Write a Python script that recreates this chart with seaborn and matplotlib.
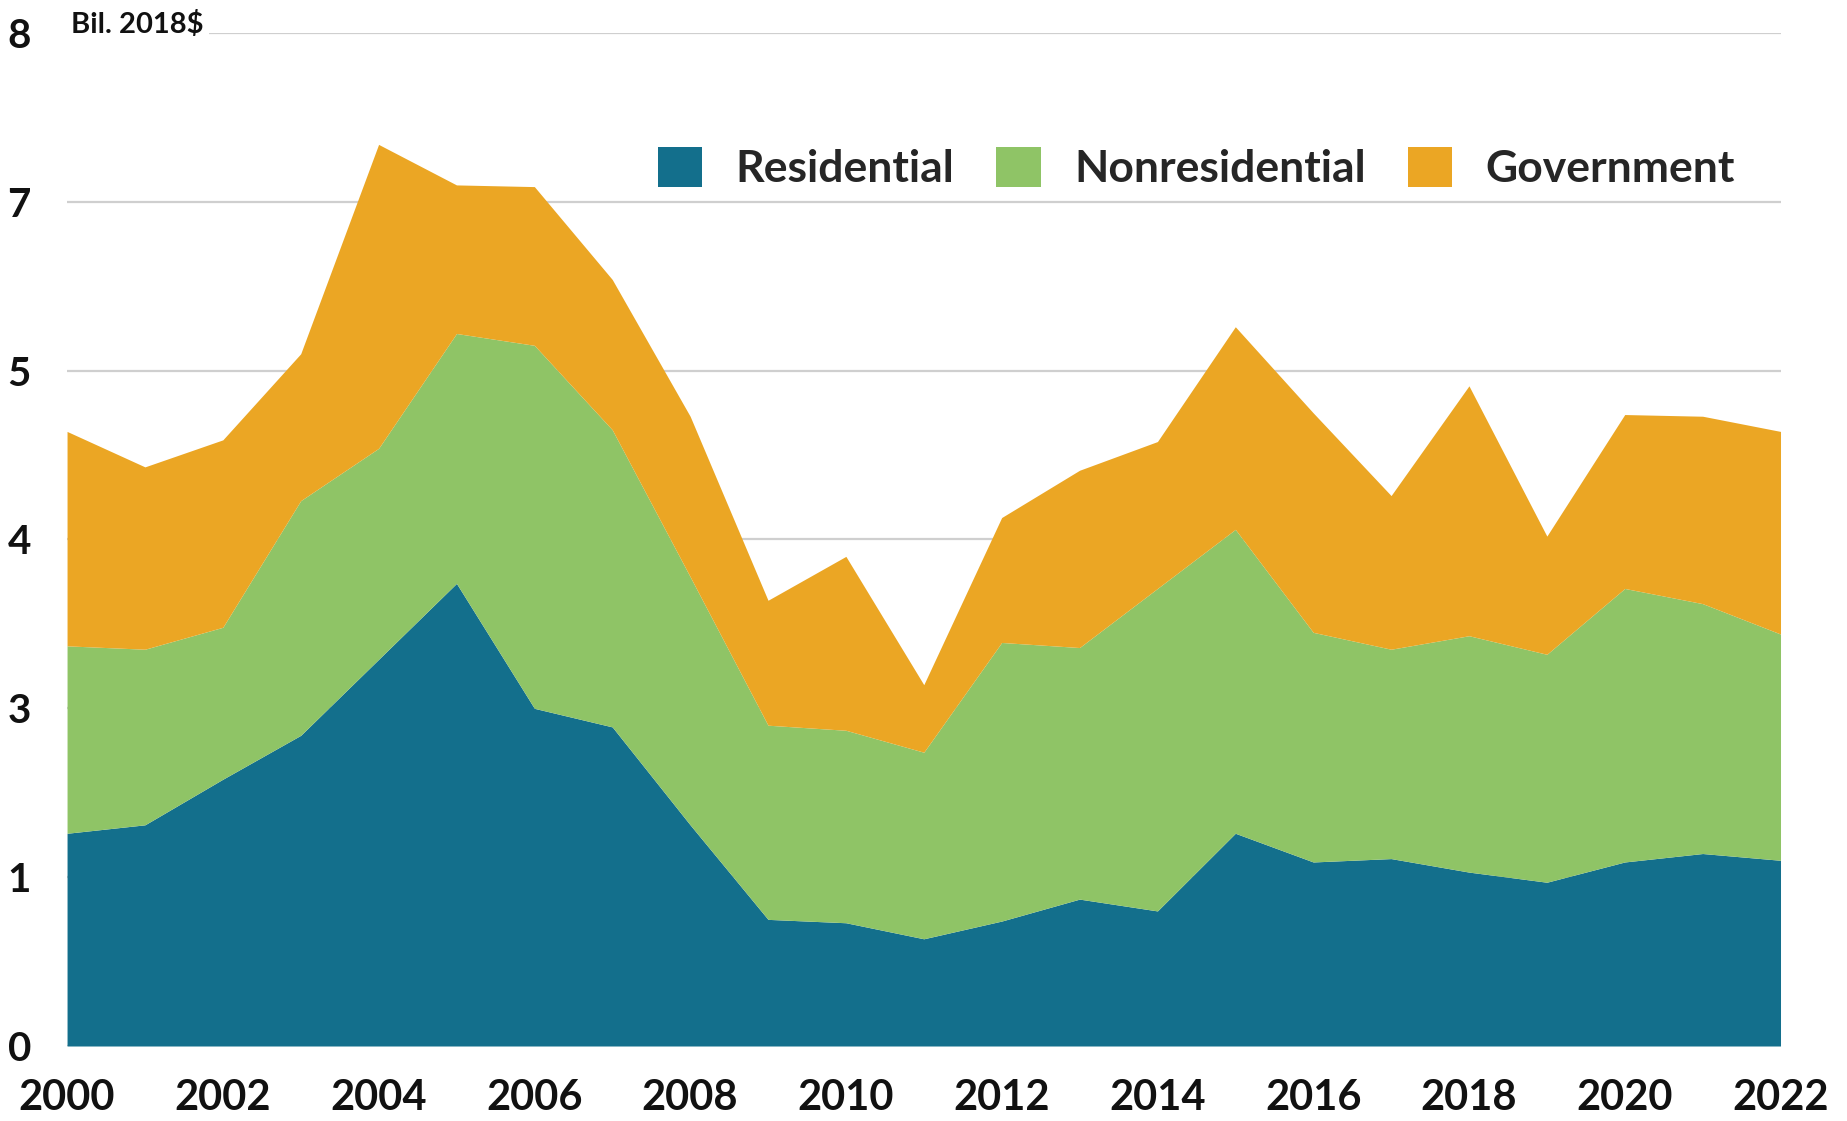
"""
Construction spending by sector
===============================
Stacked area chart of residential, nonresidential and government
construction spending, 2000-2022 (Bil. 2018$).
"""

import matplotlib
matplotlib.use("Agg")

import numpy as np
import pandas as pd
import matplotlib.pyplot as plt
import seaborn as sns
from matplotlib.patches import Patch

# ─────────────────────────────────────────────
# Data (values in gridline units)
# ─────────────────────────────────────────────

years = list(range(2000, 2023))

residential = [1.26, 1.31, 1.58, 1.84, 2.29, 2.74, 2.00, 1.89, 1.31, 0.75, 0.73, 0.635,
               0.74, 0.87, 0.80, 1.26, 1.09, 1.11, 1.03, 0.97, 1.09, 1.14, 1.10]
nonresidential = [1.11, 1.04, 0.90, 1.39, 1.25, 1.48, 2.15, 1.76, 1.47, 1.15, 1.14, 1.105,
                  1.65, 1.49, 1.91, 1.80, 1.36, 1.24, 1.40, 1.35, 1.62, 1.48, 1.34]
government = [1.27, 1.08, 1.11, 0.87, 1.80, 0.88, 0.94, 0.89, 0.95, 0.74, 1.03, 0.40,
              0.74, 1.05, 0.87, 1.20, 1.30, 0.91, 1.48, 0.70, 1.03, 1.11, 1.20]

series_names = ["Residential", "Nonresidential", "Government"]
colors = ["#136f8c", "#8fc466", "#eba624"]

ytick_labels = ["0", "1", "3", "4", "5", "7", "8"]
xtick_years = list(range(2000, 2023, 2))
unit_label = "Bil. 2018$"

df = pd.DataFrame({
    "year": years,
    "Residential": residential,
    "Nonresidential": nonresidential,
    "Government": government,
})

# ─────────────────────────────────────────────
# Plot
# ─────────────────────────────────────────────

sns.set_theme(style="white")
plt.rcParams["font.family"] = ["Lato", "DejaVu Sans"]

fig = plt.figure(figsize=(18.47, 11.21), dpi=100)
ax = fig.add_axes([0.0363, 0.0669, 0.9277, 0.9037])

ax.stackplot(
    df["year"],
    [df[name] for name in series_names],
    colors=colors,
    linewidth=0,
    zorder=2,
)

ax.set_xlim(2000, 2022)
ax.set_ylim(0, 6)
ax.set_yticks(range(len(ytick_labels)))
ax.set_yticklabels(ytick_labels)
ax.set_xticks(xtick_years)
ax.set_xticklabels([str(y) for y in xtick_years])

ax.yaxis.grid(True, color="#cfcfcf", linewidth=1.6, zorder=0)
ax.xaxis.grid(False)
ax.set_axisbelow(True)
for side in ["top", "right", "left", "bottom"]:
    ax.spines[side].set_visible(False)

ax.tick_params(axis="y", length=0, pad=26, labelsize=29, labelcolor="#111111")
ax.tick_params(axis="x", length=0, pad=24, labelsize=30, labelcolor="#111111")
for lbl in ax.get_xticklabels() + ax.get_yticklabels():
    lbl.set_fontweight("bold")
ax.set_xlabel("")
ax.set_ylabel("")

fig.text(
    0.0385, 1 - 25 / 1121, unit_label,
    fontsize=21, fontweight="bold", color="#111111",
    va="center", ha="left",
    bbox=dict(facecolor="white", edgecolor="none", pad=4),
)

handles = [Patch(facecolor=c, edgecolor="none") for c in colors]
fig.legend(
    handles, series_names,
    loc="center left",
    bbox_to_anchor=(0.356, 1 - 168 / 1121),
    ncol=3,
    frameon=False,
    prop={"size": 32, "weight": "bold"},
    handlelength=1.0,
    handleheight=1.0,
    handletextpad=0.75,
    columnspacing=0.95,
    borderpad=0,
    borderaxespad=0,
)

fig.savefig("out.png", dpi=100)
plt.close(fig)
